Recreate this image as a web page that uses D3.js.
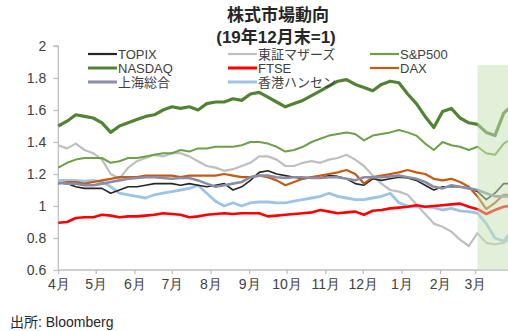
<!DOCTYPE html>
<html>
<head>
<meta charset="utf-8">
<script src="https://cdn.jsdelivr.net/npm/d3@7/dist/d3.min.js"></script>
<style>
  body { margin: 0; background: #fff; }
  svg { display: block; font-family: "Liberation Sans", Arial, "Noto Sans CJK JP", sans-serif; }
  .axis path, .axis line { stroke: #bfbfbf; stroke-width: 1.3; }
  .axis text { fill: #404040; font-size: 14px; }
</style>
</head>
<body>
<script>
// weekly dates (Apr 2021 - Mar 2022)
var dates = ["2021-04-01","2021-04-08","2021-04-15","2021-04-22","2021-04-29",
  "2021-05-06","2021-05-13","2021-05-20","2021-05-27",
  "2021-06-03","2021-06-10","2021-06-17","2021-06-24",
  "2021-07-01","2021-07-08","2021-07-15","2021-07-22","2021-07-29",
  "2021-08-05","2021-08-12","2021-08-19","2021-08-26",
  "2021-09-02","2021-09-09","2021-09-16","2021-09-23","2021-09-30",
  "2021-10-07","2021-10-14","2021-10-21","2021-10-28",
  "2021-11-04","2021-11-11","2021-11-18","2021-11-25",
  "2021-12-02","2021-12-09","2021-12-16","2021-12-23","2021-12-30",
  "2022-01-06","2022-01-13","2022-01-20","2022-01-27",
  "2022-02-03","2022-02-10","2022-02-17","2022-02-24",
  "2022-03-03","2022-03-10","2022-03-17","2022-03-24","2022-03-28"];

var topix = [1.145,1.14,1.12,1.11,1.11,1.11,1.08,1.10,1.12,1.12,1.13,1.14,1.14,1.14,1.13,1.14,1.13,1.12,1.13,1.14,1.10,1.12,1.16,1.21,1.22,1.20,1.19,1.18,1.17,1.18,1.175,1.19,1.185,1.17,1.14,1.13,1.17,1.16,1.17,1.18,1.175,1.16,1.13,1.10,1.12,1.12,1.12,1.11,1.09,1.04,1.08,1.14,1.14];
var mothers = [1.38,1.36,1.39,1.35,1.33,1.29,1.20,1.17,1.24,1.28,1.30,1.32,1.31,1.33,1.33,1.31,1.28,1.25,1.24,1.22,1.23,1.25,1.27,1.31,1.31,1.29,1.25,1.25,1.27,1.28,1.27,1.29,1.30,1.32,1.29,1.25,1.19,1.14,1.10,1.09,1.07,1.01,0.95,0.89,0.87,0.84,0.79,0.75,0.83,0.77,0.76,0.77,0.79];
var sp500 = [1.24,1.27,1.29,1.30,1.30,1.30,1.27,1.28,1.30,1.30,1.31,1.32,1.33,1.33,1.35,1.34,1.36,1.36,1.37,1.37,1.37,1.38,1.40,1.40,1.39,1.37,1.34,1.35,1.37,1.40,1.42,1.44,1.45,1.46,1.45,1.41,1.44,1.45,1.46,1.475,1.46,1.44,1.39,1.35,1.40,1.38,1.37,1.35,1.37,1.33,1.32,1.39,1.41];
var nasdaq = [1.50,1.53,1.57,1.56,1.55,1.52,1.46,1.50,1.52,1.54,1.56,1.57,1.60,1.62,1.61,1.62,1.60,1.64,1.65,1.65,1.67,1.66,1.70,1.71,1.68,1.65,1.62,1.64,1.66,1.69,1.72,1.75,1.78,1.79,1.76,1.74,1.72,1.76,1.78,1.77,1.70,1.64,1.56,1.49,1.59,1.61,1.55,1.52,1.51,1.46,1.44,1.58,1.61];
var ftse = [0.895,0.90,0.925,0.93,0.93,0.945,0.94,0.93,0.935,0.935,0.94,0.945,0.955,0.95,0.945,0.93,0.935,0.945,0.95,0.955,0.95,0.955,0.955,0.955,0.935,0.94,0.945,0.95,0.955,0.96,0.975,0.965,0.955,0.96,0.965,0.945,0.97,0.975,0.985,0.99,0.995,1.005,0.995,1.0,1.005,1.01,1.015,0.995,0.98,0.95,0.975,0.995,1.0];
var dax = [1.14,1.15,1.15,1.14,1.15,1.16,1.17,1.18,1.18,1.18,1.19,1.19,1.19,1.19,1.18,1.19,1.19,1.19,1.19,1.20,1.19,1.18,1.18,1.19,1.18,1.16,1.13,1.15,1.17,1.18,1.19,1.20,1.21,1.225,1.20,1.14,1.18,1.19,1.20,1.21,1.225,1.21,1.20,1.17,1.16,1.17,1.15,1.12,1.06,0.98,1.02,1.07,1.07];
var shanghai = [1.145,1.14,1.14,1.13,1.13,1.14,1.15,1.16,1.17,1.175,1.18,1.18,1.175,1.17,1.175,1.175,1.16,1.14,1.12,1.13,1.14,1.15,1.18,1.19,1.19,1.18,1.175,1.18,1.18,1.175,1.175,1.18,1.18,1.17,1.16,1.18,1.18,1.18,1.185,1.19,1.18,1.17,1.15,1.12,1.11,1.13,1.12,1.11,1.10,1.08,1.06,1.06,1.06];
var hangseng = [1.16,1.16,1.16,1.155,1.16,1.15,1.12,1.08,1.07,1.06,1.05,1.07,1.08,1.09,1.10,1.11,1.13,1.08,1.03,1.00,1.02,1.00,1.02,1.025,1.025,1.02,1.02,1.03,1.04,1.05,1.06,1.08,1.06,1.05,1.04,1.04,1.05,1.06,1.08,1.02,1.0,0.995,0.995,0.99,0.975,0.985,0.97,0.965,0.955,0.89,0.80,0.78,0.82];

var yTicks = [0.6, 0.8, 1, 1.2, 1.4, 1.6, 1.8, 2];
var shadeStart = "2022-03-03";

var series = [
  {name: "東証マザーズ", values: mothers, color: "#bfbfbf", width: 2.2},
  {name: "S&P500", values: sp500, color: "#6e9f4a", width: 2},
  {name: "NASDAQ", values: nasdaq, color: "#548235", width: 3.2},
  {name: "香港ハンセン", values: hangseng, color: "#9dc3e6", width: 2.8},
  {name: "FTSE", values: ftse, color: "#ff0000", width: 2.6},
  {name: "TOPIX", values: topix, color: "#262626", width: 1.6},
  {name: "DAX", values: dax, color: "#c55a11", width: 2.2},
  {name: "上海総合", values: shanghai, color: "#8b8ca8", width: 2.6}
];

// legend layout order
var legendOrder = ["TOPIX", "東証マザーズ", "S&P500", "NASDAQ", "FTSE", "DAX", "上海総合", "香港ハンセン"];

var width = 508, height = 331;
var parse = d3.timeParse("%Y-%m-%d");

var x = d3.scaleTime()
    .domain([parse("2021-04-01"), parse("2022-03-28")])
    .range([58.3, 508.7]);
var y = d3.scaleLinear().domain([0.6, 2]).range([270, 46]);

var svg = d3.select("body").append("svg")
    .attr("width", width)
    .attr("height", height);

// title
svg.append("text")
    .attr("x", 278).attr("y", 21)
    .attr("text-anchor", "middle")
    .style("font-size", "17px").style("font-weight", "bold").style("fill", "#262626")
    .text("株式市場動向");
svg.append("text")
    .attr("x", 276).attr("y", 43)
    .attr("text-anchor", "middle")
    .style("font-size", "17px").style("font-weight", "bold").style("fill", "#262626")
    .text("(19年12月末=1)");

// axes
svg.append("g")
    .attr("class", "axis")
    .attr("transform", "translate(58.3,0)")
    .call(d3.axisLeft(y).tickValues(yTicks).tickSize(5).tickPadding(7)
      .tickFormat(function(d) { return String(+d.toFixed(1)); }))
    .call(function(g) { g.select(".domain").attr("d", "M-5," + y(2) + "H0V" + y(0.6)); });

svg.append("g")
    .attr("class", "axis")
    .attr("transform", "translate(0,270)")
    .call(d3.axisBottom(x).ticks(d3.timeMonth.every(1)).tickSize(4).tickPadding(5)
      .tickFormat(function(d) { return (d.getMonth() + 1) + "月"; }))
    .call(function(g) { g.select(".domain").attr("d", "M58.3,0H508"); });

// lines
var line = d3.line()
    .x(function(d, i) { return x(parse(dates[i])); })
    .y(function(d) { return y(d); });

series.forEach(function(s) {
  svg.append("path")
      .datum(s.values)
      .attr("fill", "none")
      .attr("stroke", s.color)
      .attr("stroke-width", s.width)
      .attr("stroke-linejoin", "round")
      .attr("d", line);
});

// shaded period
svg.append("rect")
    .attr("x", x(parse(shadeStart)))
    .attr("y", 65)
    .attr("width", x.range()[1] - x(parse(shadeStart)))
    .attr("height", 270 - 65)
    .attr("fill", "#c6e0b4")
    .attr("opacity", 0.5);

// legend
var colX = [88, 228, 370], rowY = [54, 68, 82];
legendOrder.forEach(function(name, i) {
  var s = series.find(function(d) { return d.name === name; });
  var lx = colX[i % 3], ly = rowY[Math.floor(i / 3)];
  svg.append("line")
      .attr("x1", lx).attr("x2", lx + 29)
      .attr("y1", ly).attr("y2", ly)
      .attr("stroke", s.color)
      .attr("stroke-width", s.width > 2.5 ? 3 : 2.2);
  svg.append("text")
      .attr("x", lx + 30).attr("y", ly + 4.5)
      .style("font-size", "13px").style("fill", "#404040")
      .text(name);
});

// source
svg.append("text")
    .attr("x", 10).attr("y", 327)
    .style("font-size", "14px").style("fill", "#262626")
    .text("出所: Bloomberg");
</script>
</body>
</html>
